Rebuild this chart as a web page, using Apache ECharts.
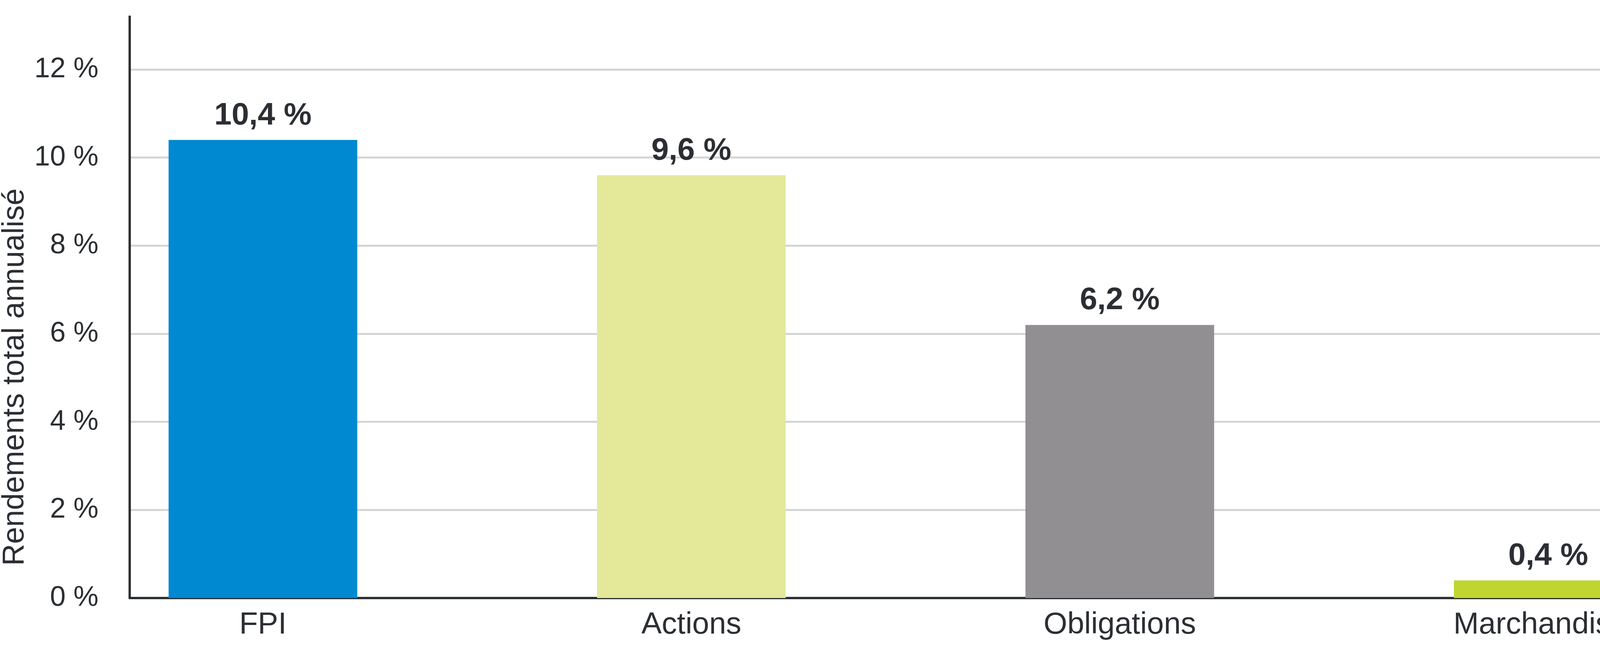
<!DOCTYPE html>
<html><head><meta charset="utf-8">
<script src="https://cdn.jsdelivr.net/npm/echarts@6/dist/echarts.min.js"></script>
<style>html,body{margin:0;padding:0;background:#fff}#c{width:4485px;height:1660px}</style>
</head><body><div id="c"></div>
<script>
const categories = ['FPI', 'Actions', 'Obligations', 'Marchandises'];
const values = [10.4, 9.6, 6.2, 0.4];
const valueLabels = ['10,4 %', '9,6 %', '6,2 %', '0,4 %'];
const colors = ['#0088d1', '#e3e998', '#918f91', '#bfd630'];
const yTicks = [0, 2, 4, 6, 8, 10, 12];

const chart = echarts.init(document.getElementById('c'));
const txt = '#2b2f33';
const condensed = '"Liberation Sans Narrow", "Liberation Sans", sans-serif';
chart.setOption({
  animation: false,
  grid: { left: 332, right: 28, top: 178, bottom: 128 },
  xAxis: {
    type: 'value', min: -0.311, max: 3.45,
    splitLine: { show: false },
    axisLine: { show: true, onZero: false, lineStyle: { color: txt, width: 6 } },
    axisTick: { show: false },
    axisLabel: { customValues: [0, 1, 2, 3], formatter: v => categories[Math.round(v)] || '',
      fontFamily: condensed, fontSize: 78, color: txt, margin: 30 }
  },
  yAxis: {
    type: 'value', min: 0, max: 12, interval: 2,
    axisLine: { show: true, onZero: false, lineStyle: { color: txt, width: 6 } },
    axisTick: { show: false },
    splitLine: { lineStyle: { color: '#d4d4d4', width: 5 } },
    axisLabel: { formatter: v => yTicks.includes(v) ? v + ' %' : '', fontFamily: '"Liberation Sans", sans-serif',
      fontSize: 72, color: txt, margin: 80 }
  },
  graphic: [
    { type: 'line', shape: { x1: 332, y1: 40, x2: 332, y2: 180 }, style: { stroke: txt, lineWidth: 6 } },
    { type: 'text', x: 38, y: 966, rotation: Math.PI / 2,
      style: { text: 'Rendements total annualisé', font: '78px "Liberation Sans Narrow", sans-serif', fill: txt,
        align: 'center', verticalAlign: 'middle' } }
  ],
  series: [{
    type: 'bar', barWidth: 483,
    data: values.map((v, i) => ({ value: [i, v], itemStyle: { color: colors[i] } })),
    label: { show: true, position: 'top', distance: 22, formatter: p => valueLabels[p.dataIndex],
      fontFamily: '"Liberation Sans", sans-serif', fontWeight: 'bold', fontSize: 80, color: txt }
  }]
});
</script></body></html>
